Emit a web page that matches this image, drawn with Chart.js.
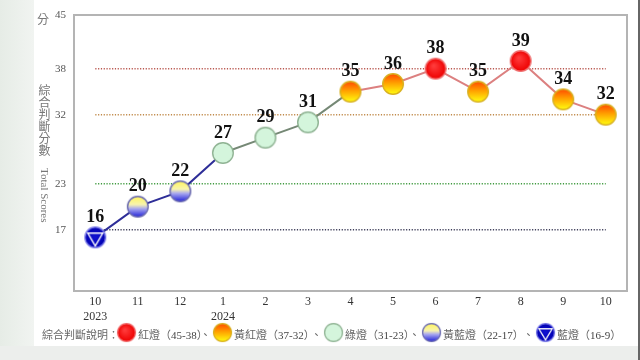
<!DOCTYPE html>
<html><head><meta charset="utf-8">
<script src="https://cdn.jsdelivr.net/npm/chart.js@4.4.1/dist/chart.umd.min.js"></script>
<style>
html,body{margin:0;padding:0;background:#fff;}
#wrap{position:relative;width:640px;height:360px;overflow:hidden;background:#fff;font-family:"Liberation Serif","Noto Sans CJK TC",serif;}
#leftstrip{position:absolute;left:0;top:0;width:34px;height:360px;background:linear-gradient(90deg,#e6ece6,#f1f4f1);}
#bottomstrip{position:absolute;left:0;top:346px;width:640px;height:14px;background:#eceeec;}
#rightline{position:absolute;right:0;top:0;width:2px;height:360px;background:#666;}
canvas#c{position:absolute;left:0;top:0;}
.ytitle{position:absolute;color:#777;font-size:12px;}
#fen{left:37px;top:10px;font-family:"Noto Sans CJK TC";}
#zh{left:37px;top:84px;writing-mode:vertical-rl;font-family:"Noto Sans CJK TC";letter-spacing:0px;font-size:12px;line-height:14px;}
#en{left:38px;top:168px;writing-mode:vertical-rl;font-family:"Liberation Serif";font-size:11px;line-height:13px;}
#legend{position:absolute;left:0;top:322px;width:640px;height:22px;font-size:11px;color:#666;}
#legend span,#legend img{position:absolute;top:4px;white-space:nowrap;}
#legend img{top:0;width:21px;height:21px;}
.cjk{font-family:"Noto Sans CJK TC";}
</style></head>
<body><div id="wrap">
<div id="leftstrip"></div><div id="bottomstrip"></div><div id="rightline"></div>
<canvas id="c" width="640" height="360"></canvas>
<div class="ytitle" id="fen">分</div>
<div class="ytitle" id="zh">綜合判斷分數</div>
<div class="ytitle" id="en">Total Scores</div>
<div id="legend"></div>
</div>
<script>
const months = [['10','2023'],'11','12',['1','2024'],'2','3','4','5','6','7','8','9','10'];
const scores = [16,20,22,27,29,31,35,36,38,35,39,34,32];
const yTicks = [17,23,32,38,45];
const refLevels = [38,32,23,17];
const refColors = ['#b9574f','#c08a4a','#3f9a3f','#3c3c58'];
const legendLabels = ['紅燈（45-38）','黃紅燈（37-32）','綠燈（31-23）','黃藍燈（22-17）','藍燈（16-9）'];

function makeIcon(kind){
  const s=24, c=document.createElement('canvas'); c.width=s; c.height=s;
  const g=c.getContext('2d'); const r=10.3, cx=12, cy=12;
  g.beginPath(); g.arc(cx,cy,r,0,Math.PI*2);
  let fill, stroke;
  if(kind==='red'){
    fill=g.createRadialGradient(10,9,1,12,12,r); fill.addColorStop(0,'#ff3a3a'); fill.addColorStop(1,'#ee0000'); stroke='#f07070';
  } else if(kind==='orange'){
    fill=g.createLinearGradient(0,cy-r,0,cy+r); fill.addColorStop(0,'#ff4a00'); fill.addColorStop(0.45,'#ffa000'); fill.addColorStop(1,'#ffff10'); stroke='#d8b020';
  } else if(kind==='green'){
    fill='#d4f5dc'; stroke='#8fb393';
  } else if(kind==='yb'){
    fill=g.createLinearGradient(0,cy-r,0,cy+r); fill.addColorStop(0,'#fff45a'); fill.addColorStop(0.4,'#f8f4b0'); fill.addColorStop(0.6,'#a8a8f0'); fill.addColorStop(1,'#2020d8'); stroke='#6a6ab0';
  } else {
    fill=g.createRadialGradient(12,12,1,12,12,r); fill.addColorStop(0,'#1010d0'); fill.addColorStop(1,'#0000b0'); stroke='#7a7ae8';
  }
  g.fillStyle=fill; g.fill(); g.lineWidth=1.4; g.strokeStyle=stroke; g.stroke();
  if(kind==='blue'){
    g.beginPath(); g.moveTo(cx-7.5,cy-4.2); g.lineTo(cx+7.5,cy-4.2); g.lineTo(cx,cy+8.6); g.closePath();
    g.strokeStyle='#ffffff'; g.lineWidth=1.4; g.stroke();
  }
  return c;
}
const icons = {red:makeIcon('red'),orange:makeIcon('orange'),green:makeIcon('green'),yb:makeIcon('yb'),blue:makeIcon('blue')};
function cls(v){ return v>=38?'red':v>=32?'orange':v>=23?'green':v>=17?'yb':'blue'; }
const segColor = {red:'#dc8080',orange:'#dc8080',green:'#758875',yb:'#2e2e98',blue:'#2e2e98'};

const datasets = [{
  data: scores, order:0, borderWidth:2,
  borderColor:'#2e2e98',
  segment:{borderColor: ctx => segColor[cls(ctx.p0.parsed.y)]},
  pointStyle: ctx => icons[cls(ctx.raw)],
  pointRadius:11, pointHoverRadius:11
}];
refLevels.forEach((lv,i)=>{
  datasets.push({data: months.map(()=>lv), order:1, borderColor:refColors[i], borderWidth:1.5, borderDash:[1.2,1.6], pointRadius:0, pointHoverRadius:0, fill:false});
});

const framePlugin = {
  id:'frame',
  beforeDraw(chart){
    const a=chart.chartArea, g=chart.ctx;
    g.save(); g.fillStyle='#fff'; g.fillRect(a.left,a.top,a.right-a.left,a.bottom-a.top);
    g.strokeStyle='#b4b4b4'; g.lineWidth=2; g.strokeRect(a.left,a.top,a.right-a.left,a.bottom-a.top); g.restore();
  },
  afterDatasetsDraw(chart){
    const meta=chart.getDatasetMeta(0), g=chart.ctx;
    g.save(); g.font='bold 18px "Liberation Serif"'; g.fillStyle='#111'; g.textAlign='center'; g.textBaseline='middle';
    meta.data.forEach((p,i)=>{ g.fillText(String(scores[i]), p.x, p.y-20); });
    g.restore();
  }
};

new Chart(document.getElementById('c'),{
  type:'line',
  data:{labels:months, datasets},
  options:{
    responsive:false, animation:false,
    layout:{padding:{left:0,top:15,right:8,bottom:0}},
    plugins:{legend:{display:false},tooltip:{enabled:false}},
    elements:{line:{tension:0}},
    scales:{
      x:{offset:true, grid:{display:false,drawTicks:false}, border:{display:false},
         ticks:{color:'#333',font:{family:'"Liberation Serif"',size:12},padding:4,maxRotation:0,autoSkip:false},
         afterFit(s){s.height=69;}},
      y:{min:9,max:45, grid:{display:false,drawTicks:false}, border:{display:false},
         afterBuildTicks(s){s.ticks=yTicks.map(v=>({value:v}));},
         ticks:{color:'#555',font:{family:'"Liberation Serif"',size:11},padding:8},
         afterFit(s){s.width=74;}}
    }
  },
  plugins:[framePlugin]
});

// legend
const lg=document.getElementById('legend');
function addSpan(txt,x,cjk){const s=document.createElement('span'); s.textContent=txt; s.style.left=x+'px'; if(cjk) s.className='cjk'; lg.appendChild(s); return s;}
function addImg(kind,cx){const im=document.createElement('img'); im.src=icons[kind].toDataURL(); im.style.left=(cx-10.5)+'px'; lg.appendChild(im);}
addSpan('綜合判斷說明：',42,true);
const kinds=['red','orange','green','yb','blue'];
const centers=[126,222,333,431,545];
kinds.forEach((k,i)=>{
  addImg(k,centers[i]);
  const s=addSpan('',centers[i]+12,false);
  const t=legendLabels[i];
  const m=t.match(/^(.*?（)(.*)(）)$/);
  s.innerHTML='<span class="cjk" style="position:static">'+m[1]+'</span>'+'<span style="position:static;color:#444">'+m[2]+'</span>'+'<span class="cjk" style="position:static">'+m[3]+'</span>';
  if(i<4){ const sep=addSpan('、',centers[i+1]-22,true); }
});
</script>
</body></html>
